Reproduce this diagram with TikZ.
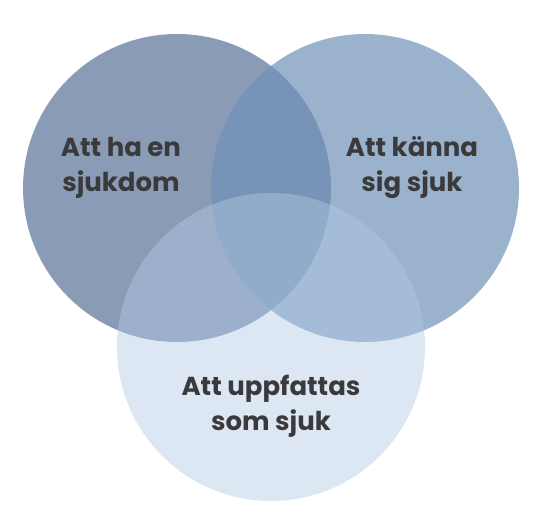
\documentclass[tikz,border=0pt]{standalone}
\usepackage{fontspec}
\setmainfont{Poppins}
\usetikzlibrary{positioning}
\definecolor{sickblue}{RGB}{138,155,182}
\definecolor{feelblue}{RGB}{112,145,184}
\definecolor{seenblue}{RGB}{178,202,229}
\definecolor{labelgray}{RGB}{58,58,60}
\tikzset{set/.style={circle, minimum size=308pt, inner sep=0pt, draw=none},
	setlabel/.style={font=\fontsize{26}{35}\selectfont\bfseries, text=labelgray, align=center}}

\begin{document}
\begin{tikzpicture}[x=1pt, y=-1pt]
		\useasboundingbox (0,0) rectangle (546,532);
		\node(sick)[set, fill=sickblue] at (177,188){};
		\node(feel)[set, fill=feelblue, fill opacity=0.7] at (365,188){};
		\node(seen)[set, fill=seenblue, fill opacity=0.45] at (271,347){};
		\node(sicklabel)[setlabel] at (121,168){Att ha en\\sjukdom};
		\node(feellabel)[setlabel] at (412,168){Att känna\\sig sjuk};
		\node(seenlabel)[setlabel] at (271,406){Att uppfattas\\som sjuk};
	\end{tikzpicture}
\end{document}
